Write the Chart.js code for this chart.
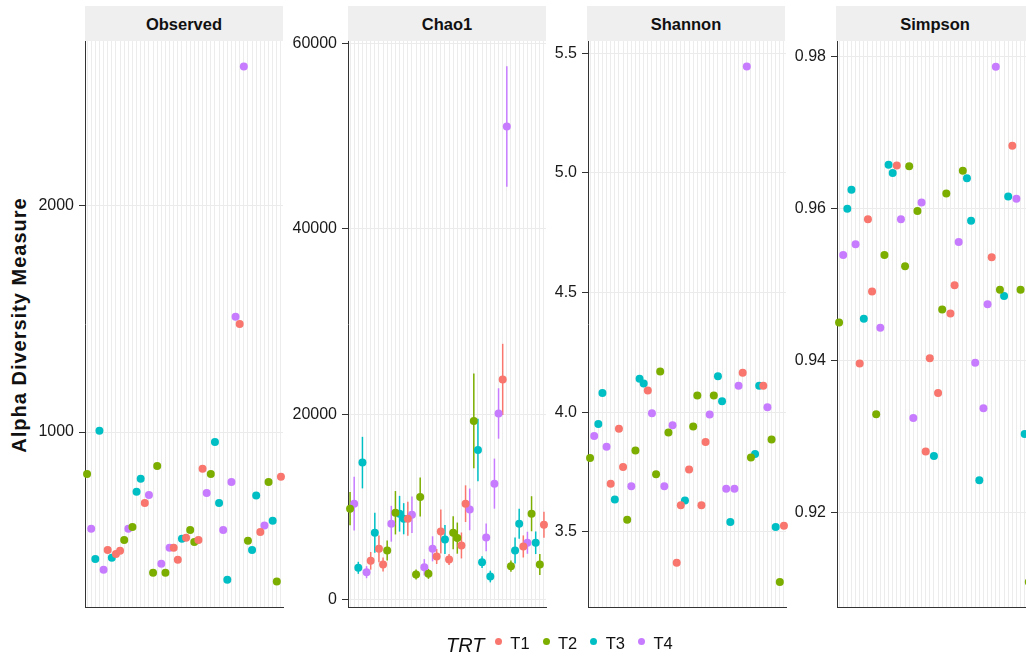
<!DOCTYPE html>
<html>
<head>
<meta charset="utf-8">
<script src="https://cdn.jsdelivr.net/npm/chart.js@4/dist/chart.umd.min.js"></script>
<style>
  html, body { margin: 0; padding: 0; overflow: hidden; background: #fff; }
  body { width: 1026px; height: 658px; position: relative; font-family: "Liberation Sans", Arial, sans-serif; }
  canvas { position: absolute; }
  .strip {
    position: absolute; top: 6px; height: 35px; line-height: 36px; width: 198px;
    background: #efefef; text-align: center; font-weight: bold; font-size: 16.5px; color: #111;
  }
  #ytitle {
    position: absolute; left: 19px; top: 325px;
    transform: translate(-50%, -50%) rotate(-90deg);
    font-weight: bold; font-size: 20px; letter-spacing: 1px; white-space: nowrap; color: #111;
  }
  .leg { position: absolute; white-space: nowrap; color: #111; }
  .leg-title { font-style: italic; font-size: 20px; line-height: 20px; top: 635px; left: 446px; }
  .leg-label { font-size: 16.5px; line-height: 16px; top: 635px; }
  .leg-dot { width: 7px; height: 7px; border-radius: 50%; top: 638px; }
</style>
</head>
<body>
<div id="ytitle">Alpha Diversity Measure</div>

<div class="strip" style="left:85px">Observed</div>
<div class="strip" style="left:348px">Chao1</div>
<div class="strip" style="left:587px">Shannon</div>
<div class="strip" style="left:836px">Simpson</div>

<canvas id="observed"></canvas>
<canvas id="chao1"></canvas>
<canvas id="shannon"></canvas>
<canvas id="simpson"></canvas>

<div id="legend"></div>

<script>
// samples along the (unlabelled) x axis
const sampleNames = [
  "S01", "S02", "S03", "S04", "S05", "S06", "S07", "S08", "S09", "S10", "S11", "S12",
  "S13", "S14", "S15", "S16", "S17", "S18", "S19", "S20", "S21", "S22", "S23", "S24",
  "S25", "S26", "S27", "S28", "S29", "S30", "S31", "S32", "S33", "S34", "S35", "S36",
  "S37", "S38", "S39", "S40", "S41", "S42", "S43", "S44", "S45", "S46", "S47", "S48",
];
const sampleGroups = [
  "T2", "T4", "T3", "T3", "T4", "T1", "T3", "T1", "T1", "T2", "T4", "T2",
  "T3", "T3", "T1", "T4", "T2", "T2", "T4", "T2", "T4", "T1", "T1", "T3",
  "T1", "T2", "T2", "T1", "T1", "T4", "T2", "T3", "T3", "T4", "T3", "T4",
  "T4", "T1", "T4", "T2", "T3", "T3", "T1", "T4", "T2", "T3", "T2", "T1",
];
const groupNames = ["T1", "T2", "T3", "T4"];

const observedValues = [
  815, 573, 440, 1006, 392, 480, 445, 462, 476, 524, 573, 581,
  736, 794, 687, 722, 379, 850, 419, 379, 489, 489, 436, 529,
  533, 568, 515, 524, 838, 731, 815, 956, 687, 568, 348, 780,
  1508, 1477, 2612, 520, 480, 720, 559, 587, 780, 608, 341, 803,
];
const chao1Values = [
  9805, 10345, 3427, 14776, 2955, 4180, 7205, 5476, 3784, 5297, 8180, 9368,
  9260, 8720, 8720, 9152, 2700, 11060, 3490, 2775, 5476, 4650, 7350, 6486,
  4324, 7205, 6630, 5837, 10345, 9729, 19274, 16140, 4036, 6702, 2486, 12506,
  20075, 23750, 51028, 3604, 5297, 8180, 5730, 6130, 9260, 6130, 3784, 8075,
];
const chao1SE = [
  1800, 2900, 650, 2780, 650, 950, 2160, 1440, 760, 1080, 1930, 2340,
  1930, 1680, 1840, 1970, 540, 2100, 880, 540, 1350, 810, 2380, 1570,
  600, 1780, 1680, 1400, 1980, 2250, 5100, 3370, 630, 1500, 630, 2700,
  2720, 3840, 6490, 600, 1400, 1620, 1190, 1190, 1890, 1220, 1130, 1400,
];
const shannonValues = [
  3.808, 3.90, 3.95, 4.08, 3.855, 3.70, 3.635, 3.93, 3.77, 3.55, 3.69, 3.84,
  4.14, 4.12, 4.09, 3.995, 3.74, 4.17, 3.69, 3.915, 3.945, 3.37, 3.61, 3.63,
  3.76, 3.94, 4.07, 3.61, 3.875, 3.99, 4.07, 4.15, 4.045, 3.68, 3.54, 3.68,
  4.11, 4.165, 5.445, 3.81, 3.825, 4.11, 4.11, 4.02, 3.885, 3.52, 3.29, 3.525,
];
// last sample lies outside the cropped picture
const simpsonValues = [
  0.9450, 0.9539, 0.9600, 0.9625, 0.9553, 0.9396, 0.9455, 0.9586, 0.9491, 0.9329, 0.9443, 0.9539,
  0.9658, 0.9647, 0.9657, 0.9586, 0.9524, 0.9656, 0.9324, 0.9597, 0.9608, 0.9280, 0.9403, 0.9274,
  0.9357, 0.9467, 0.9620, 0.9462, 0.9499, 0.9556, 0.9650, 0.9640, 0.9584, 0.9397, 0.9242, 0.9337,
  0.9474, 0.9536, 0.9787, 0.9493, 0.9485, 0.9616, 0.9683, 0.9613, 0.9493, 0.9303, 0.9108, null,
];

const observedTicks = [1000, 2000];
const chao1Ticks = [0, 20000, 40000, 60000];
const shannonTicks = [3.5, 4.0, 4.5, 5.0, 5.5];
const simpsonTicks = [0.92, 0.94, 0.96, 0.98];

const groupColors = { T1: "#F8766D", T2: "#7CAE00", T3: "#00BFC4", T4: "#C77CFF" };

Chart.defaults.font.family = "'Liberation Sans', Arial, sans-serif";

const AXIS_W = 70;
const PANEL_W = 198;
const PANEL_TOP = 41;
const PANEL_H = 566;
const PAD_TOP = 15;
const PAD_RIGHT = 8;
const PAD_BOTTOM = 10;

function makePanel({ id, left, values, se, ticks, decimals, min, max }) {
  const canvas = document.getElementById(id);
  canvas.width = AXIS_W + PANEL_W + PAD_RIGHT;
  canvas.height = PAD_TOP + PANEL_H + PAD_BOTTOM;
  canvas.style.left = left - AXIS_W + "px";
  canvas.style.top = PANEL_TOP - PAD_TOP + "px";

  const datasets = groupNames.map((g) => ({
    label: g,
    data: values.map((v, i) => (sampleGroups[i] === g ? v : null)),
    pointBackgroundColor: groupColors[g],
    borderColor: groupColors[g],
    pointRadius: 4,
    pointBorderWidth: 0,
    showLine: false,
    clip: false,
  }));

  // vertical error bars (Chao1 only)
  const errorBars = {
    id: "errorBars",
    beforeDatasetsDraw(chart) {
      if (!se) return;
      const { ctx, scales } = chart;
      ctx.save();
      ctx.lineWidth = 1.5;
      values.forEach((v, i) => {
        const px = scales.x.getPixelForValue(i);
        ctx.strokeStyle = groupColors[sampleGroups[i]];
        ctx.beginPath();
        ctx.moveTo(px, scales.y.getPixelForValue(v - se[i]));
        ctx.lineTo(px, scales.y.getPixelForValue(v + se[i]));
        ctx.stroke();
      });
      ctx.restore();
    },
  };

  new Chart(canvas.getContext("2d"), {
    type: "line",
    data: { labels: sampleNames, datasets },
    plugins: [errorBars],
    options: {
      responsive: false,
      animation: false,
      events: [],
      layout: { padding: { top: PAD_TOP, right: PAD_RIGHT, bottom: PAD_BOTTOM, left: 0 } },
      plugins: { legend: { display: false }, tooltip: { enabled: false } },
      scales: {
        x: {
          type: "category",
          offset: true,
          ticks: { display: false, autoSkip: false },
          grid: { color: "#ececec", lineWidth: 1, drawTicks: false, offset: false },
          border: { display: true, color: "#333", width: 1 },
          afterFit(scale) {
            scale.height = 0;
            scale.paddingLeft = 0;
            scale.paddingRight = 0;
          },
        },
        y: {
          min,
          max,
          afterBuildTicks(scale) {
            scale.ticks = ticks.map((value) => ({ value }));
          },
          ticks: {
            color: "#1a1a1a",
            font: { size: 16 },
            padding: 5,
            callback: (v) => Number(v).toFixed(decimals),
          },
          grid: { color: "#ebebeb", lineWidth: 1, tickColor: "#333", tickLength: 6 },
          border: { display: true, color: "#333", width: 1 },
          afterFit(scale) {
            scale.width = AXIS_W;
            scale.paddingTop = 0;
            scale.paddingBottom = 0;
          },
        },
      },
    },
  });
}

makePanel({ id: "observed", left: 85, values: observedValues, ticks: observedTicks, decimals: 0, min: 228, max: 2725 });
makePanel({ id: "chao1", left: 348, values: chao1Values, se: chao1SE, ticks: chao1Ticks, decimals: 0, min: -800, max: 60250 });
makePanel({ id: "shannon", left: 588, values: shannonValues, ticks: shannonTicks, decimals: 1, min: 3.185, max: 5.552 });
makePanel({ id: "simpson", left: 837, values: simpsonValues, ticks: simpsonTicks, decimals: 2, min: 0.9075, max: 0.9821 });

// legend along the bottom
const legend = document.getElementById("legend");
legend.innerHTML = '<span class="leg leg-title">TRT</span>';
groupNames.forEach((g, k) => {
  const cx = 498.3 + k * 47.7;
  legend.innerHTML +=
    `<span class="leg leg-dot" style="left:${cx - 3.5}px;background:${groupColors[g]}"></span>` +
    `<span class="leg leg-label" style="left:${cx + 12}px">${g}</span>`;
});
</script>
</body>
</html>
